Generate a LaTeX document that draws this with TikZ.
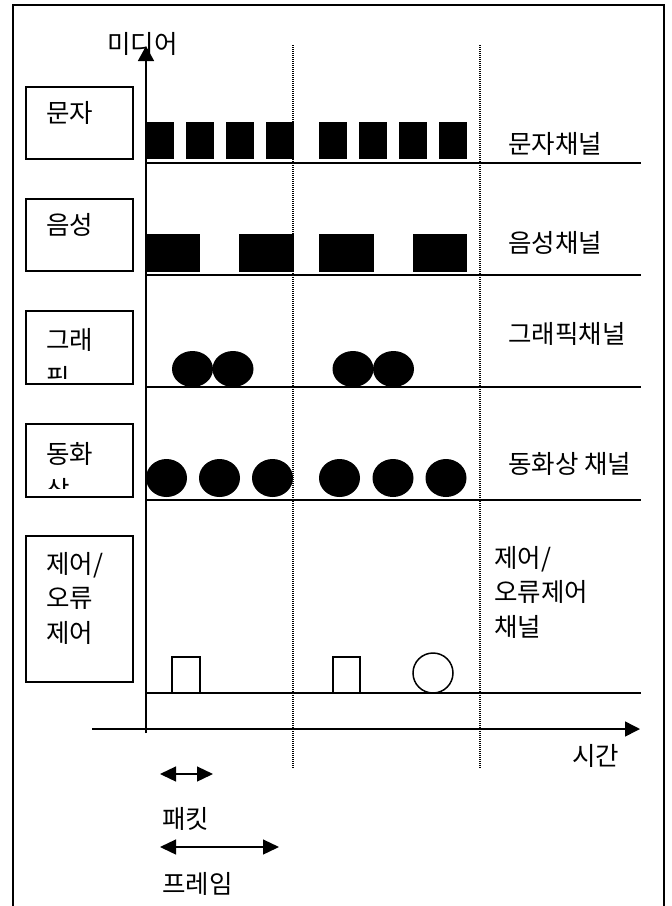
\documentclass[tikz,border=0pt]{standalone}
\usepackage{fontspec}
\setmainfont{Noto Sans CJK KR}
\usetikzlibrary{arrows.meta}
\begin{document}
\begin{tikzpicture}[x=1pt,y=-1pt,
  lbl/.style={font=\fontsize{25.5}{34.5}\selectfont, inner sep=0pt, anchor=west, align=left},
  mbox/.style={draw, line width=1.5pt, minimum width=107pt, inner sep=0pt},
  base/.style={line width=1.5pt},
  axis/.style={line width=1.5pt},
  sep/.style={line width=1.2pt, dash pattern=on 1pt off 1pt},
  tipa/.style={-{Triangle[length=15pt,width=16pt]}},
  dbl/.style={line width=1.3pt, {Triangle[length=16pt,width=15pt]}-{Triangle[length=16pt,width=15pt]}}
]
\useasboundingbox (0,0) rectangle (672,906);
% outer frame
\draw[line width=2pt] (13,906) -- (13,5) -- (664,5) -- (664,906);

% media label
\node[lbl] (media) at (107,44) {미디어};

% dotted frame separators
\coordinate (d1t) at (293,45); \coordinate (d1b) at (293,768);
\coordinate (d2t) at (480,45); \coordinate (d2b) at (480,768);
\draw[sep] (d1t) -- (d1b);
\draw[sep] (d2t) -- (d2b);

% axes
\coordinate (ybot) at (146,733);
\coordinate (ytop) at (146,46);
\coordinate (xl) at (92,729);
\coordinate (xr) at (640,729);
\draw[axis,tipa] (ybot) -- (ytop);
\draw[axis,-{Triangle[length=15pt,width=15pt]}] (xl) -- (xr);
\node[lbl] (time) at (572,756) {시간};

% left boxes
\node[mbox, minimum height=72pt] (btext) at (79.5,123) {};
\node[mbox, minimum height=72pt] (bvoice) at (79.5,235) {};
\node[mbox, minimum height=73pt] (bgraph) at (79.5,347.5) {};
\node[mbox, minimum height=73pt] (bvideo) at (79.5,460.5) {};
\node[mbox, minimum height=146pt] (bctrl) at (79.5,609) {};

\node[lbl] (ttext) at (46,113) {문자};
\node[lbl] (tvoice) at (46,225) {음성};
\begin{scope}
  \clip (27,312) rectangle (132,378);
  \node[lbl] (tgraph) at (46,340) {그래};
  \node[lbl] (tgraph2) at (46,378) {픽};
\end{scope}
\begin{scope}
  \clip (27,425) rectangle (132,488);
  \node[lbl] (tvideo) at (46,454) {동화};
  \node[lbl] (tvideo2) at (46,490) {상};
\end{scope}
\node[lbl] (tctrl) at (46,598) {제어/\\오류\\제어};

% channel lines
\foreach \yy/\nm in {163/l1,275/l2,387/l3,500/l4,693/l5}{
  \coordinate (\nm a) at (146,\yy);
  \coordinate (\nm b) at (641,\yy);
  \draw[base] (\nm a) -- (\nm b);
}

% channel labels
\node[lbl] (ctext) at (508,144) {문자채널};
\node[lbl] (cvoice) at (508,243) {음성채널};
\node[lbl] (cgraph) at (508,334) {그래픽채널};
\node[lbl] (cvideo) at (508,464) {동화상 채널};
\node[lbl] (cctrl) at (494,592) {제어/\\오류제어\\채널};

% text packets
\foreach \x in {146,186,226,266,319,359,399,439}
  \fill (\x,122) rectangle ++(28,37);
% voice packets
\fill (146,234) rectangle (200,272);
\fill (239,234) rectangle (294,272);
\fill (319,234) rectangle (374,272);
\fill (413,234) rectangle (467,272);
% graphics
\foreach \x in {192.5,233,353,393.5}
  \fill (\x,369) ellipse [x radius=20.5pt, y radius=18pt];
% video
\foreach \x in {166.5,219.5,272.5,339.5,393,446}
  \fill (\x,478) ellipse [x radius=20.5pt, y radius=19pt];
% control
\draw[base] (172,657) rectangle (200,693);
\draw[base] (333,657) rectangle (360,693);
\draw[base] (433,673) circle [radius=20pt];

% packet / frame legend
\coordinate (pa) at (160,774); \coordinate (pb) at (213,774);
\draw[dbl] (pa) -- (pb);
\node[lbl] (packet) at (162,819) {패킷};
\coordinate (fa) at (160,847); \coordinate (fb) at (279,847);
\draw[dbl] (fa) -- (fb);
\node[lbl] (frame) at (162,884) {프레임};
\end{tikzpicture}
\end{document}
